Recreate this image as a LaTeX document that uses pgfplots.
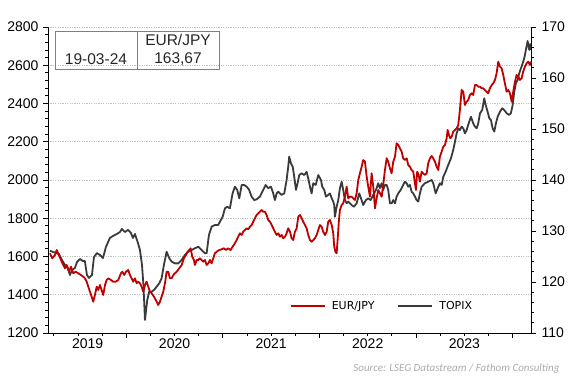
\documentclass[border=0pt]{standalone}
\usepackage{fontspec}
\setmainfont{Liberation Sans}
\newfontfamily\legfont{DejaVu Sans}
\newfontfamily\srcfont{Carlito}
\usepackage{pgfplots}
\usepackage{pgfplotstable}
\pgfplotsset{compat=1.18}
\definecolor{fred}{HTML}{C00000}
\definecolor{fgray}{HTML}{3A3A3A}
\definecolor{gridc}{HTML}{BFBFBF}

\pgfplotstableread{
yr val
2019.210 1630
2019.241 1624
2019.272 1618
2019.303 1613
2019.334 1582
2019.365 1556
2019.396 1540
2019.417 1503
2019.438 1529
2019.469 1540
2019.490 1571
2019.521 1587
2019.552 1576
2019.572 1576
2019.593 1503
2019.614 1488
2019.645 1503
2019.666 1597
2019.697 1618
2019.728 1608
2019.759 1592
2019.790 1650
2019.831 1697
2019.862 1707
2019.904 1718
2019.935 1728
2019.955 1744
2019.987 1728
2020.018 1739
2020.049 1723
2020.069 1697
2020.090 1718
2020.121 1671
2020.142 1634
2020.163 1556
2020.178 1451
2020.194 1268
2020.217 1372
2020.238 1416
2020.263 1416
2020.287 1425
2020.315 1442
2020.342 1460
2020.366 1486
2020.390 1556
2020.418 1625
2020.445 1591
2020.470 1573
2020.504 1564
2020.538 1564
2020.574 1582
2020.608 1608
2020.642 1625
2020.677 1634
2020.711 1643
2020.745 1651
2020.781 1634
2020.815 1617
2020.832 1617
2020.856 1712
2020.884 1756
2020.918 1765
2020.952 1765
2020.970 1782
2020.998 1808
2021.022 1852
2021.046 1860
2021.073 1852
2021.101 1930
2021.125 1965
2021.149 1948
2021.170 1904
2021.195 1974
2021.221 1974
2021.246 1965
2021.270 1951
2021.298 1913
2021.325 1895
2021.350 1899
2021.384 1913
2021.418 1948
2021.443 1974
2021.470 1957
2021.498 1965
2021.522 1930
2021.539 1895
2021.557 1930
2021.574 1939
2021.609 1922
2021.636 1930
2021.660 2000
2021.677 2070
2021.687 2122
2021.705 2087
2021.723 2070
2021.739 2017
2021.757 1948
2021.774 1983
2021.791 2026
2021.816 2035
2021.843 2026
2021.867 2043
2021.884 2009
2021.902 1965
2021.919 1930
2021.936 1983
2021.961 1974
2021.988 2026
2022.016 2000
2022.029 1965
2022.050 1948
2022.067 1913
2022.091 1922
2022.109 1930
2022.127 1904
2022.143 1887
2022.153 1869
2022.160 1808
2022.178 1860
2022.195 1895
2022.212 1957
2022.230 1991
2022.246 1948
2022.264 1895
2022.282 1878
2022.298 1887
2022.316 1878
2022.333 1869
2022.357 1860
2022.385 1878
2022.412 1930
2022.437 1895
2022.453 1869
2022.481 1895
2022.505 1904
2022.530 1895
2022.557 1922
2022.585 1948
2022.609 1983
2022.626 1957
2022.644 1983
2022.660 1948
2022.678 1974
2022.696 1974
2022.712 1948
2022.730 1878
2022.747 1878
2022.764 1895
2022.782 1878
2022.799 1913
2022.816 1930
2022.841 1948
2022.867 1974
2022.885 1991
2022.903 1983
2022.919 1965
2022.937 1974
2022.954 1939
2022.971 1930
2022.989 1913
2023.006 1895
2023.023 1887
2023.040 1930
2023.058 1965
2023.092 1983
2023.126 1991
2023.162 2000
2023.178 1983
2023.203 1930
2023.224 1957
2023.247 1983
2023.265 1974
2023.282 2017
2023.306 2043
2023.333 2078
2023.361 2113
2023.385 2157
2023.403 2200
2023.420 2244
2023.437 2270
2023.454 2261
2023.472 2279
2023.489 2270
2023.506 2244
2023.524 2261
2023.540 2288
2023.568 2331
2023.592 2296
2023.610 2279
2023.627 2270
2023.644 2296
2023.662 2349
2023.685 2366
2023.706 2427
2023.721 2392
2023.741 2357
2023.758 2323
2023.775 2314
2023.793 2270
2023.810 2253
2023.827 2296
2023.845 2331
2023.869 2357
2023.892 2375
2023.913 2366
2023.938 2349
2023.962 2340
2023.982 2349
2024.000 2392
2024.017 2462
2024.034 2506
2024.052 2523
2024.068 2558
2024.086 2584
2024.104 2610
2024.120 2636
2024.137 2680
2024.155 2727
2024.172 2680
2024.182 2711
2024.189 2680
}\topix

\pgfplotstableread{
yr val
2019.210 125.63
2019.234 124.65
2019.262 125.29
2019.280 126.27
2019.303 125.29
2019.324 124.31
2019.348 123.33
2019.365 122.69
2019.383 123.33
2019.407 122.02
2019.428 123.00
2019.451 121.71
2019.476 122.02
2019.503 121.71
2019.531 121.37
2019.555 121.04
2019.572 120.72
2019.590 120.06
2019.607 119.08
2019.624 118.10
2019.642 117.12
2019.658 116.14
2019.676 117.45
2019.694 119.08
2019.710 118.43
2019.728 119.41
2019.745 118.43
2019.762 117.45
2019.780 119.41
2019.797 120.39
2019.814 120.72
2019.842 120.39
2019.865 120.06
2019.890 120.06
2019.917 120.39
2019.945 121.71
2019.959 122.02
2019.979 121.37
2019.997 122.02
2020.021 122.35
2020.038 121.37
2020.056 120.72
2020.072 120.06
2020.090 120.72
2020.108 119.75
2020.124 120.06
2020.142 119.75
2020.159 119.08
2020.176 118.10
2020.194 119.41
2020.211 120.06
2020.228 119.08
2020.245 118.10
2020.263 117.78
2020.287 117.12
2020.315 116.14
2020.331 115.49
2020.349 116.14
2020.366 117.12
2020.383 118.10
2020.401 119.75
2020.418 122.02
2020.435 122.02
2020.452 120.72
2020.470 120.72
2020.487 121.37
2020.504 121.71
2020.522 122.02
2020.549 122.69
2020.574 123.33
2020.597 124.65
2020.618 125.29
2020.636 125.94
2020.652 126.27
2020.667 126.61
2020.683 124.96
2020.701 124.31
2020.711 123.33
2020.729 124.31
2020.745 124.31
2020.763 124.65
2020.781 124.31
2020.797 123.98
2020.815 124.31
2020.832 123.33
2020.849 123.67
2020.866 124.31
2020.884 123.67
2020.901 124.65
2020.918 125.63
2020.936 125.94
2020.963 126.27
2020.988 126.41
2021.011 126.61
2021.032 126.27
2021.056 126.61
2021.081 126.27
2021.101 126.92
2021.125 127.59
2021.143 128.23
2021.159 128.88
2021.177 129.55
2021.195 129.22
2021.211 129.86
2021.229 130.20
2021.246 130.53
2021.263 130.33
2021.281 130.84
2021.298 131.18
2021.315 131.82
2021.332 132.49
2021.350 133.14
2021.366 133.47
2021.384 133.78
2021.402 134.12
2021.418 133.78
2021.436 133.78
2021.453 133.14
2021.470 132.16
2021.488 131.82
2021.505 131.18
2021.522 130.53
2021.539 129.86
2021.557 129.22
2021.574 129.55
2021.591 128.88
2021.609 129.22
2021.625 128.57
2021.643 128.88
2021.660 129.55
2021.677 130.53
2021.695 129.86
2021.712 128.57
2021.729 128.23
2021.746 129.86
2021.764 130.53
2021.781 132.80
2021.798 133.14
2021.816 132.49
2021.832 131.82
2021.850 131.18
2021.867 130.53
2021.884 129.22
2021.902 128.23
2021.919 127.90
2021.936 128.23
2021.953 128.57
2021.971 129.22
2021.988 130.20
2022.005 131.18
2022.023 130.84
2022.039 129.86
2022.057 129.22
2022.075 129.86
2022.091 131.82
2022.109 132.16
2022.127 131.18
2022.143 129.55
2022.153 126.92
2022.166 125.88
2022.178 125.63
2022.188 128.23
2022.202 132.16
2022.212 134.12
2022.230 135.10
2022.246 135.43
2022.264 136.73
2022.282 138.69
2022.298 136.41
2022.316 136.73
2022.333 136.73
2022.350 136.41
2022.368 136.08
2022.385 137.39
2022.402 140.00
2022.419 141.31
2022.437 142.61
2022.453 143.92
2022.471 143.59
2022.489 140.65
2022.505 138.69
2022.523 136.73
2022.540 141.31
2022.557 138.69
2022.575 134.45
2022.592 136.41
2022.609 138.04
2022.626 137.39
2022.644 136.73
2022.660 139.02
2022.678 141.96
2022.696 144.25
2022.712 143.59
2022.730 142.29
2022.747 141.31
2022.764 143.59
2022.782 144.57
2022.799 147.20
2022.816 146.86
2022.833 146.22
2022.851 145.55
2022.867 144.25
2022.885 143.92
2022.903 144.25
2022.919 142.94
2022.937 142.61
2022.954 141.96
2022.971 141.63
2022.989 139.35
2022.999 138.04
2023.012 141.63
2023.027 140.98
2023.040 139.67
2023.058 141.63
2023.074 141.31
2023.092 141.00
2023.110 141.31
2023.126 143.27
2023.144 144.25
2023.162 144.71
2023.178 144.25
2023.196 143.59
2023.213 142.61
2023.230 141.96
2023.247 144.57
2023.265 145.55
2023.282 146.53
2023.299 146.86
2023.317 148.18
2023.327 149.80
2023.341 148.82
2023.354 148.18
2023.369 148.49
2023.385 149.47
2023.403 149.80
2023.420 150.14
2023.437 150.78
2023.454 153.73
2023.472 157.65
2023.489 157.31
2023.506 154.71
2023.524 155.35
2023.540 155.69
2023.558 156.67
2023.576 157.00
2023.592 156.67
2023.610 158.63
2023.627 158.63
2023.644 158.29
2023.662 158.29
2023.679 157.98
2023.696 157.98
2023.713 157.65
2023.731 157.31
2023.747 157.00
2023.765 157.98
2023.783 158.63
2023.799 158.96
2023.817 159.61
2023.834 160.92
2023.851 163.20
2023.869 162.22
2023.886 161.90
2023.903 160.59
2023.920 158.96
2023.938 157.31
2023.955 157.65
2023.972 157.00
2023.990 155.35
2024.006 157.31
2024.024 159.27
2024.041 160.59
2024.058 160.25
2024.076 159.61
2024.093 159.94
2024.109 161.24
2024.127 162.22
2024.145 162.88
2024.162 163.20
2024.179 162.55
2024.189 163.20
}\eurjpy

\begin{document}
\begin{tikzpicture}[x=1pt,y=1pt]
\useasboundingbox (0,0) rectangle (574,377);
\pgfplotsset{
  common/.style={
    at={(48pt,44pt)}, anchor=south west, scale only axis,
    width=483pt, height=306pt,
    xmin=2019.19, xmax=2024.19,
    tick align=outside,
    major tick length=5pt, minor tick length=3pt,
    every tick/.style={black, line width=0.8pt},
    axis line style={black, line width=0.9pt},
    /pgf/number format/assume math mode=true,
    /pgf/number format/1000 sep={},
    ticklabel style={font=\fontsize{14}{14}\selectfont},
    clip=false,
  }
}
\begin{axis}[common,
  ymin=1200, ymax=2800,
  axis x line*=bottom, axis y line*=left,
  ytick={1200,1400,...,2800}, minor y tick num=4,
  xtick={2020,2021,2022,2023,2024}, xticklabels={},
  minor xtick={2019.25,2019.5,2019.75,2020.25,2020.5,2020.75,2021.25,2021.5,2021.75,2022.25,2022.5,2022.75,2023.25,2023.5,2023.75},
  extra x ticks={2019.60,2020.5,2021.5,2022.5,2023.5},
  extra x tick labels={2019,2020,2021,2022,2023},
  extra x tick style={major tick length=0pt, grid=none},
  ymajorgrids,
  grid style={gridc, line width=0.8pt, dash pattern=on 1.2pt off 1.2pt},
  yticklabel style={xshift=-1pt},
  xticklabel style={yshift=-2pt},
]
\addplot[fgray, line width=1.8pt, line join=round] table {\topix};
\end{axis}
\begin{axis}[common,
  ymin=110, ymax=170,
  axis y line*=right, axis x line=none,
  ytick={110,120,...,170}, minor y tick num=4,
  yticklabel style={xshift=2pt},
  legend columns=2,
  legend style={at={(0.501,0.089)}, anchor=west, draw=none, fill=none,
    inner sep=0pt, outer sep=0pt,
    font=\legfont\fontsize{11}{13}\selectfont,
    nodes={inner sep=0pt},
    /tikz/every odd column/.append style={column sep=6pt},
    /tikz/every even column/.append style={column sep=23pt}},
  legend image code/.code={\draw[#1] (0pt,0pt) -- (34pt,0pt);},
]
\addplot[fred, line width=1.8pt, line join=round] table {\eurjpy};
\addlegendentry{EUR/JPY}
\addlegendimage{fgray, line width=1.8pt}
\addlegendentry{TOPIX}
\end{axis}
% date box
\draw[black!50, line width=0.9pt] (55,307.7) rectangle (219,345.3);
\draw[black!50, line width=0.9pt] (137,307.7) -- (137,345.3);
\node[font=\fontsize{15.5}{16}\selectfont, text=black!85] at (96,318) {19-03-24};
\node[font=\fontsize{15.5}{16}\selectfont, text=black!85] at (178,337) {EUR/JPY};
\node[font=\fontsize{15.5}{16}\selectfont, text=black!85] at (178,318) {163,67};
% source
\node[anchor=east, font=\srcfont\itshape\fontsize{11}{13}\selectfont, text=black!33] at (563,8) {Source: LSEG Datastream / Fathom Consulting};
\end{tikzpicture}
\end{document}
